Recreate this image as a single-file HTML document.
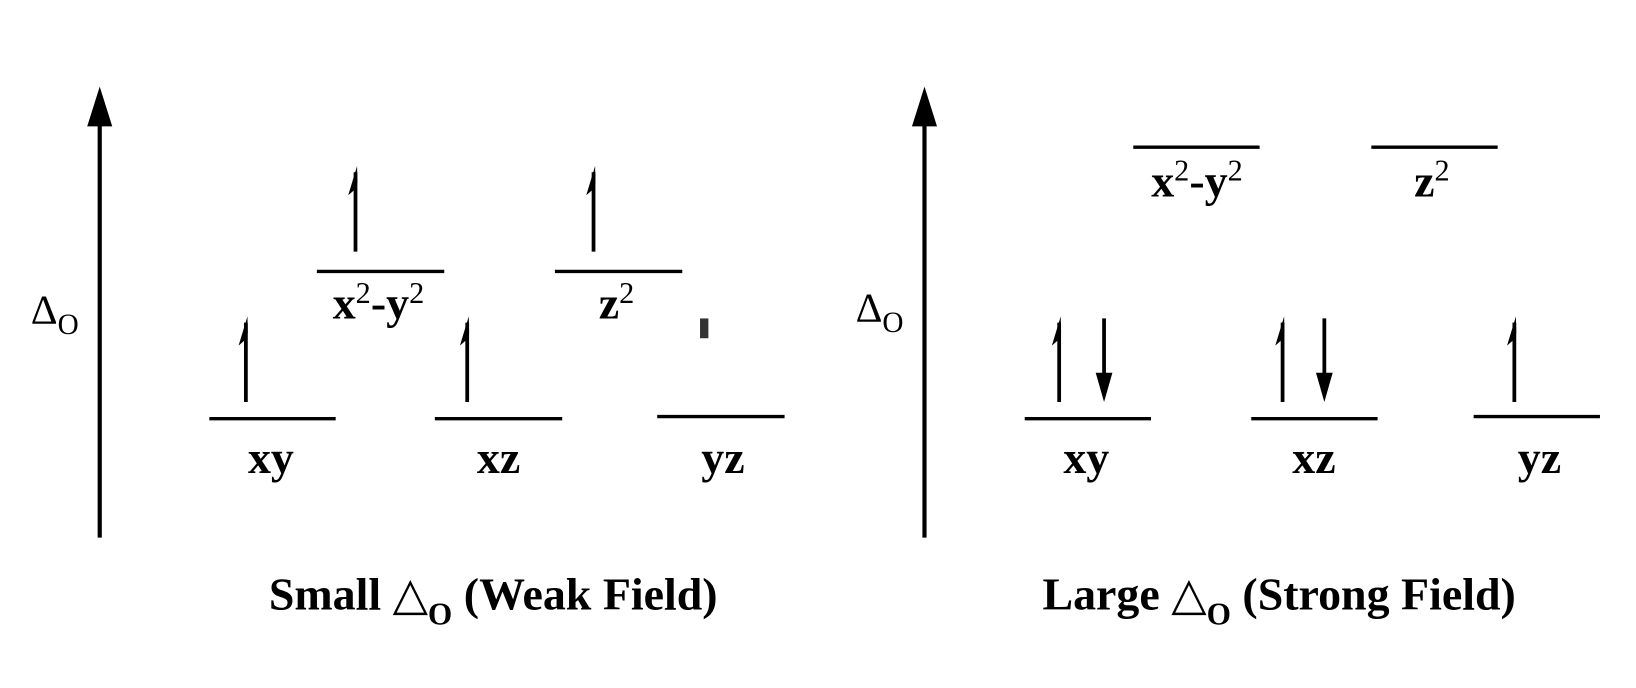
<!DOCTYPE html>
<html><head><meta charset="utf-8"><style>
html,body{margin:0;padding:0;background:#fff;}
svg{display:block;}
text{font-family:"Liberation Serif",serif;fill:#000;}
</style></head><body>
<svg width="1636" height="688" viewBox="0 0 1566 659" xmlns="http://www.w3.org/2000/svg">
<defs>
<g id="up"><line x1="0" y1="0" x2="0" y2="-76" stroke="#000" stroke-width="3.6"/><polygon points="1.5,-82 -7,-54 0,-60 1.8,-66" fill="#000"/></g>
<g id="down"><line x1="0" y1="-80" x2="0" y2="-12" stroke="#000" stroke-width="3.6"/><polygon points="0,0 -8,-28 8,-28" fill="#000"/></g>
</defs>
<line x1="95" y1="515" x2="95" y2="115" stroke="#000" stroke-width="4"/>
<polygon points="95,83 83,121 107,121" fill="#000"/>
<line x1="885" y1="515" x2="885" y2="115" stroke="#000" stroke-width="4"/>
<polygon points="885,83 873,121 897,121" fill="#000"/>
<text x="29" y="310" font-size="40">Δ<tspan font-size="28" dy="10">O</tspan></text>
<text x="819" y="308" font-size="40">Δ<tspan font-size="28" dy="10">O</tspan></text>

<g stroke="#000" stroke-width="3.2">
<line x1="200" y1="401" x2="321" y2="401"/>
<line x1="416" y1="401" x2="538" y2="401"/>
<line x1="629" y1="399" x2="751" y2="399"/>
<line x1="303" y1="260" x2="425" y2="260"/>
<line x1="531" y1="260" x2="653" y2="260"/>
<line x1="1085" y1="141" x2="1206" y2="141"/>
<line x1="1313" y1="141" x2="1434" y2="141"/>
<line x1="981" y1="401" x2="1102" y2="401"/>
<line x1="1198" y1="401" x2="1319" y2="401"/>
<line x1="1411" y1="399" x2="1532" y2="399"/>
</g>
<rect x="670" y="305" width="8" height="19" fill="#333"/>

<use href="#up" x="235" y="385"/>
<use href="#up" x="447" y="385"/>
<use href="#up" x="340" y="241"/>
<use href="#up" x="568" y="241"/>
<use href="#up" x="1014" y="385"/>
<use href="#down" x="1057" y="385"/>
<use href="#up" x="1228" y="385"/>
<use href="#down" x="1268" y="385"/>
<use href="#up" x="1450" y="385"/>

<g font-size="44" font-weight="bold" text-anchor="middle">
<text x="259" y="453">xy</text>
<text x="477" y="453">xz</text>
<text x="692" y="453">yz</text>
<text x="1040" y="453">xy</text>
<text x="1258" y="453">xz</text>
<text x="1474" y="453">yz</text>
<text x="362" y="305">x<tspan font-size="29" font-weight="normal" dy="-15">2</tspan><tspan dy="15">-y</tspan><tspan font-size="29" font-weight="normal" dy="-15">2</tspan></text>
<text x="590" y="305">z<tspan font-size="29" font-weight="normal" dy="-15">2</tspan></text>
<text x="1146" y="188">x<tspan font-size="29" font-weight="normal" dy="-15">2</tspan><tspan dy="15">-y</tspan><tspan font-size="29" font-weight="normal" dy="-15">2</tspan></text>
<text x="1371" y="188">z<tspan font-size="29" font-weight="normal" dy="-15">2</tspan></text>
</g>

<g font-size="44" font-weight="bold">
<text x="257" y="584">Small <tspan font-weight="normal">△</tspan><tspan font-size="30" dy="14">O</tspan><tspan dy="-14"> (Weak Field)</tspan></text>
<text x="998" y="584">Large <tspan font-weight="normal">△</tspan><tspan font-size="30" dy="14">O</tspan><tspan dy="-14"> (Strong Field)</tspan></text>
</g>
</svg>
</body></html>
